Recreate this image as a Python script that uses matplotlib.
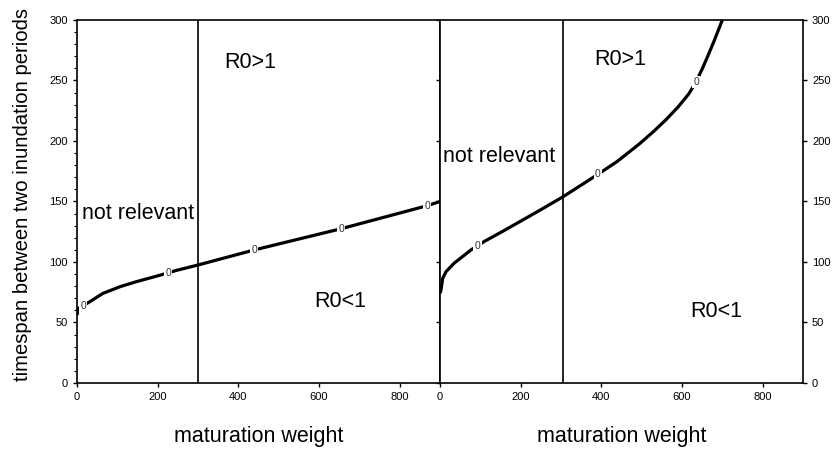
import numpy as np
import matplotlib.pyplot as plt
from matplotlib.ticker import MultipleLocator

plt.rcParams['font.family'] = ['Liberation Sans', 'DejaVu Sans']

# left panel: R0 = 1 contour
left_x = [0, 2.5, 15, 31, 64, 106, 147, 205, 246, 300, 440, 655, 868, 900]
left_y = [56, 61.5, 64, 67, 74, 79.5, 83.7, 89, 93, 97.5, 110, 127.5, 146.5, 150]
left_labels_x = [15, 226, 440, 655, 868]
left_cut = 300

# right panel: R0 = 1 contour
right_x = [0, 2.5, 6.7, 15, 35, 77, 110, 159, 241, 303, 357, 403, 439, 494, 530, 560,
           590, 617, 635, 650, 665, 680, 700]
right_y = [74, 77, 86.5, 92, 99, 110, 117, 126, 141.5, 153.5, 165, 175, 183, 197.5, 208, 217.5,
           228, 239, 249, 259.5, 271, 283, 300]
right_labels_x = [93, 391, 635]
right_cut = 305

fig = plt.figure(figsize=(8.33, 4.5), dpi=100)
ax1 = fig.add_axes([0.0924, 0.1489, 0.4358, 0.8067])
ax2 = fig.add_axes([0.5282, 0.1489, 0.4358, 0.8067])


def draw_panel(ax, xs, ys, lab_x, cut, r_gt, r_lt, nr):
    ax.plot(xs, ys, color='black', lw=2.3, solid_capstyle='butt', solid_joinstyle='round')
    for lx in lab_x:
        ly = np.interp(lx, xs, ys)
        ax.text(lx, ly, '0', fontsize=7.5, ha='center', va='center', color='#333333',
                bbox=dict(facecolor='white', edgecolor='none', pad=0.8), zorder=3)
    ax.axvline(cut, color='black', lw=1.2)
    ax.text(r_gt[0], r_gt[1], 'R0>1', fontsize=15.5, ha='center', va='center')
    ax.text(r_lt[0], r_lt[1], 'R0<1', fontsize=15.5, ha='center', va='center')
    ax.text(nr[0], nr[1], 'not relevant', fontsize=15.5, ha='left', va='center')
    ax.set_xlim(0, 900)
    ax.set_ylim(0, 300)
    ax.set_xticks([0, 200, 400, 600, 800])
    ax.set_yticks(range(0, 301, 50))
    ax.tick_params(labelsize=8, length=3, width=1, direction='out')
    for s in ax.spines.values():
        s.set_linewidth(1.2)
    ax.set_xlabel('maturation weight', fontsize=15.5, labelpad=17)


draw_panel(ax1, left_x, left_y, left_labels_x, left_cut, (429, 265), (653, 67), (12, 140))
draw_panel(ax2, right_x, right_y, right_labels_x, right_cut, (446, 267), (686, 59), (8, 187))

ax1.yaxis.set_minor_locator(MultipleLocator(10))
ax1.tick_params(axis='y', which='minor', length=2, width=0.8)
ax1.set_ylabel('timespan between two inundation periods', fontsize=14.6)
ax1.yaxis.set_label_coords(-0.125, 0.52)

ax2.yaxis.tick_right()
ax2.tick_params(axis='y', left=True, right=True, labelleft=False, labelright=True)

fig.savefig('out.png', dpi=100)
